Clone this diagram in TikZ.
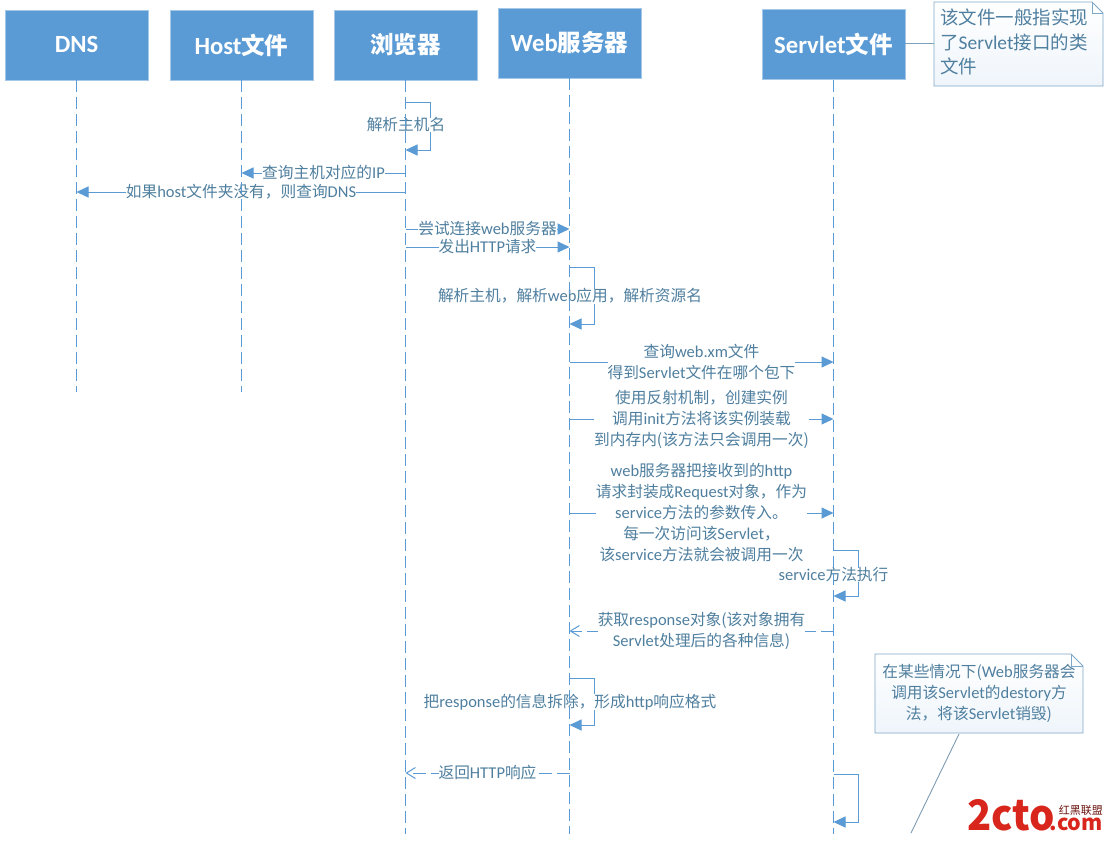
\documentclass[tikz,border=0pt]{standalone}
\usepackage{fontspec}
\setmainfont{Noto Sans CJK SC}
\newfontfamily\latf[Scale=1.05]{Carlito}
\newcommand\lat[1]{{\latf #1}}
\newcommand\hdtxt[1]{\raisebox{1.5pt}{#1}}
\usetikzlibrary{arrows.meta,calc}
\definecolor{mblue}{HTML}{5B9BD5}
\definecolor{ltxt}{HTML}{4F7F9F}
\definecolor{nedge}{HTML}{7FA8C9}
\definecolor{logored}{HTML}{D9261C}
\tikzset{
 header/.style={fill=mblue,draw=mblue!55!white,line width=0.8pt,minimum width=143pt,minimum height=70pt,inner sep=0pt,text=white,font=\fontsize{23.5}{27}\selectfont\bfseries},
 life/.style={draw=mblue,line width=1.7pt,dash pattern=on 12pt off 5pt},
 msgline/.style={draw=mblue,line width=1pt},
 solidtip/.style={-{Triangle[length=12pt,width=11pt,fill=mblue]}},
 opentip/.style={-{Straight Barb[length=9pt,width=11pt]}},
 dashmsg/.style={msgline,dash pattern=on 13pt off 5pt},
 lab/.style={fill=white,inner sep=0pt,outer sep=0pt,text=ltxt,align=center,font=\fontsize{15.7}{21}\selectfont},
 notebox/.style={draw=nedge,line width=0.9pt,top color=white,bottom color=mblue!10!white},
 notetxt/.style={text=ltxt,inner sep=0pt},
}
\begin{document}
\begin{tikzpicture}[x=1pt,y=-1pt]
\useasboundingbox (0,0) rectangle (1105,841);
\fill[white] (0,0) rectangle (1105,841);
% headers
\node[header] (dns) at (76.5,45) {\hdtxt{\lat{DNS}}};
\node[header] (host) at (241.5,45) {\hdtxt{\lat{Host}文件}};
\node[header] (brow) at (405.5,45) {\hdtxt{浏览器}};
\node[header] (web) at (569.5,43) {\hdtxt{\lat{Web}服务器}};
\node[header] (serv) at (833.5,44.5) {\hdtxt{\lat{Servlet}文件}};
\coordinate (dnsend) at (76.5,392);
\coordinate (hostend) at (241.5,392);
\coordinate (browend) at (405.5,834);
\coordinate (webend) at (569.5,834);
\coordinate (servend) at (833.5,834);
% self messages
\draw[msgline,solidtip] (brow.south |- 0,102) -- ++(25,0) -- ++(0,48) -- (brow.south |- 0,150);
\node[lab] (l1) at (406,125) {解析主机名};
\draw[msgline,solidtip] (web.south |- 0,267) -- ++(25,0) -- ++(0,57) -- (web.south |- 0,324);
\node[lab] (l6) at (570,296) {解析主机，解析\lat{web}应用，解析资源名};
\draw[msgline,solidtip] (serv.south |- 0,550) -- ++(25,0) -- ++(0,46) -- (serv.south |- 0,596);
\node[lab] (l10) at (833.5,575) {\lat{service}方法执行};
\draw[msgline,solidtip] (web.south |- 0,678) -- ++(25,0) -- ++(0,47) -- (web.south |- 0,725);
\node[lab] (l12) at (570,702) {把\lat{response}的信息拆除，形成\lat{http}响应格式};
\draw[msgline,solidtip] (serv.south |- 0,774) -- ++(25,0) -- ++(0,48) -- (serv.south |- 0,822);
% messages
\draw[msgline,solidtip] (brow.south |- 0,173) -- node[lab] (l2) {查询主机对应的\lat{IP}} (host.south |- 0,173);
\draw[msgline,solidtip] (brow.south |- 0,192) -- node[lab] (l3) {如果\lat{host}文件夹没有，则查询\lat{DNS}} (dns.south |- 0,192);
\draw[msgline,solidtip] (brow.south |- 0,229) -- node[lab] (l4) {尝试连接\lat{web}服务器} (web.south |- 0,229);
\draw[msgline,solidtip] (brow.south |- 0,247) -- node[lab] (l5) {发出\lat{HTTP}请求} (web.south |- 0,247);
\draw[msgline,solidtip] (web.south |- 0,362) -- node[lab] (l7) {查询\lat{web.xm}文件\\得到\lat{Servlet}文件在哪个包下} (serv.south |- 0,362);
\draw[msgline,solidtip] (web.south |- 0,419) -- node[lab] (l8) {使用反射机制，创建实例\\调用\lat{init}方法将该实例装载\\到内存内(该方法只会调用一次)} (serv.south |- 0,419);
\draw[msgline,solidtip] (web.south |- 0,513) -- node[lab] (l9) {\lat{web}服务器把接收到的\lat{http}\\请求封装成\lat{Request}对象，作为\\\lat{service}方法的参数传入。\\每一次访问该\lat{Servlet}，\\该\lat{service}方法就会被调用一次} (serv.south |- 0,513);
\draw[dashmsg,opentip] (serv.south |- 0,631) -- node[lab] (l11) {获取\lat{response}对象(该对象拥有\\\lat{Servlet}处理后的各种信息)} (web.south |- 0,631);
\draw[dashmsg,opentip] (web.south |- 0,773) -- node[lab] (l13) {返回\lat{HTTP}响应} (brow.south |- 0,773);
% lifelines
\draw[life] (dns.south) -- (dnsend);
\draw[life] (host.south) -- (hostend);
\draw[life] (brow.south) -- (browend);
\draw[life] (web.south) -- (webend);
\draw[life] (serv.south) -- (servend);
% notes
\path[notebox] (934,2) -- (1092,2) -- (1103,13) -- (1103,86) -- (934,86) -- cycle;
\draw[nedge,line width=0.9pt] (1092,2) -- (1092,13) -- (1103,13);
\coordinate (n1w) at (934,43);
\draw[nedge!80!gray,line width=0.9pt] (serv.east |- n1w) -- (n1w);
\node[notetxt,anchor=west,align=left,font=\fontsize{18.5}{24.5}\selectfont] (n1) at (940,42) {该文件一般指实现\\了\lat{Servlet}接口的类\\文件};
\path[notebox] (875,654) -- (1071,654) -- (1083,666) -- (1083,733) -- (875,733) -- cycle;
\draw[nedge,line width=0.9pt] (1071,654) -- (1071,666) -- (1083,666);
\node[notetxt,align=center,font=\fontsize{15.7}{21}\selectfont] (n2) at (979,693) {在某些情况下(\lat{Web}服务器会\\调用该\lat{Servlet}的\lat{destory}方\\法，将该\lat{Servlet}销毁)};
\coordinate (n2a) at (959,734);
\coordinate (n2b) at (911,833);
\draw[nedge!70!gray,line width=0.9pt] (n2a) -- (n2b);
% logo
\node[inner sep=0pt,anchor=base west,text=logored,xscale=0.95,font=\fontsize{42}{42}\selectfont\bfseries] (logo) at (967,830) {2cto};
\node[inner sep=0pt,anchor=base east,text=logored,text height=12pt,text depth=0pt,font=\fontsize{21.5}{21.5}\selectfont\bfseries] (logob) at (1103,830) {.com};
\node[inner sep=0pt,anchor=base east,text=logored!50!black,text height=8pt,text depth=0pt,font=\fontsize{11}{11}\selectfont] (logoc) at (1103,814) {红黑联盟};
\end{tikzpicture}
\end{document}
